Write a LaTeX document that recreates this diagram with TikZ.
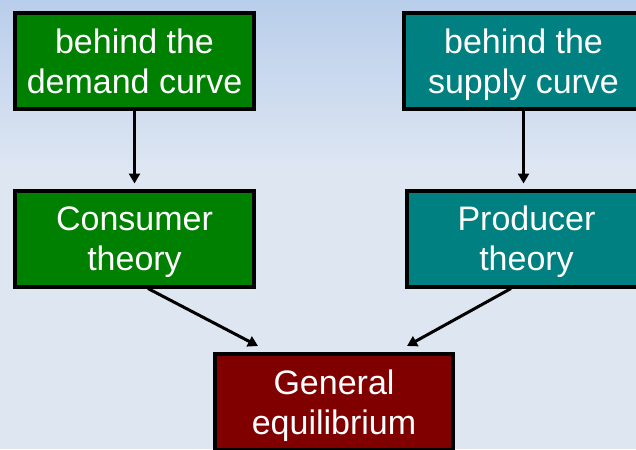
\documentclass[tikz,border=0pt]{standalone}
\usepackage{fontspec}
\setmainfont{Liberation Sans}
\usetikzlibrary{arrows.meta}
\definecolor{bgtop}{RGB}{185,206,235}
\definecolor{bgbot}{RGB}{222,230,242}
\definecolor{boxgreen}{RGB}{0,128,0}
\definecolor{boxteal}{RGB}{0,128,128}
\definecolor{boxred}{RGB}{128,0,0}
\begin{document}
\begin{tikzpicture}[x=1pt,y=-1pt,
  box/.style={draw=black, line width=4pt, text=white, align=center,
    font=\fontsize{34}{40}\selectfont, minimum width=239pt,
    minimum height=96pt, inner sep=0pt, text depth=0pt},
  arr/.style={line width=3pt, -{Triangle[width=11pt,length=10pt]}}]
\useasboundingbox (0,0) rectangle (636,449);
\begin{scope}
\clip (0,0) rectangle (636,449);
\fill[bgbot] (0,0) rectangle (636,449);
\shade[top color=bgtop, bottom color=bgbot] (0,0) rectangle (636,170);
\node[box, fill=boxgreen] (dem) at (134.5,61) {behind the\\demand curve};
\node[box, fill=boxteal] (sup) at (523.5,61) {behind the\\supply curve};
\node[box, fill=boxgreen] (cons) at (134.5,238.5) {Consumer\\theory};
\node[box, fill=boxteal] (prod) at (526.5,238.5) {Producer\\theory};
\node[box, fill=boxred, minimum width=238pt] (gen) at (334,402) {General\\equilibrium};
\draw[arr, shorten >=5pt] (dem.south) -- (cons.north);
\draw[arr, shorten >=5pt] (sup.south) -- (sup.south |- prod.north);
\draw[arr] ([xshift=13.5pt]cons.south) -- ([xshift=-76pt,yshift=6pt]gen.north);
\draw[arr] ([xshift=-15.5pt]prod.south) -- ([xshift=73pt,yshift=6pt]gen.north);
\end{scope}
\end{tikzpicture}
\end{document}
